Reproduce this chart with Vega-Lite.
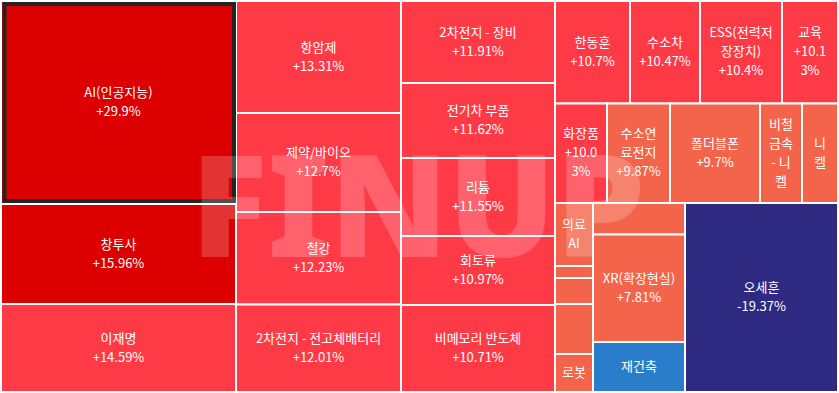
{
  "$schema": "https://vega.github.io/schema/vega-lite/v6.json",
  "width": 839,
  "height": 393,
  "autosize": {"type": "none"},
  "padding": 0,
  "background": "#f6f7fb",
  "config": {"view": {"stroke": null}, "text": {"font": "Noto Sans CJK KR"}},
  "data": {
    "values": [
      {"name": "AI(인공지능)", "label": "AI(인공지능)\n+29.9%", "change": 29.9, "x0": 1, "x1": 236, "y0": 1, "y1": 204},
      {"name": "창투사", "label": "창투사\n+15.96%", "change": 15.96, "x0": 1, "x1": 236, "y0": 204, "y1": 304},
      {"name": "이재명", "label": "이재명\n+14.59%", "change": 14.59, "x0": 1, "x1": 236, "y0": 304, "y1": 392},
      {"name": "항암제", "label": "항암제\n+13.31%", "change": 13.31, "x0": 236, "x1": 401, "y0": 1, "y1": 113},
      {"name": "제약/바이오", "label": "제약/바이오\n+12.7%", "change": 12.7, "x0": 236, "x1": 401, "y0": 113, "y1": 212},
      {"name": "철강", "label": "철강\n+12.23%", "change": 12.23, "x0": 236, "x1": 401, "y0": 212, "y1": 304.5},
      {"name": "2차전지 - 전고체배터리", "label": "2차전지 - 전고체배터리\n+12.01%", "change": 12.01, "x0": 236, "x1": 401, "y0": 304.5, "y1": 392},
      {"name": "2차전지 - 장비", "label": "2차전지 - 장비\n+11.91%", "change": 11.91, "x0": 401, "x1": 555, "y0": 1, "y1": 83},
      {"name": "전기차 부품", "label": "전기차 부품\n+11.62%", "change": 11.62, "x0": 401, "x1": 555, "y0": 83, "y1": 158},
      {"name": "리튬", "label": "리튬\n+11.55%", "change": 11.55, "x0": 401, "x1": 555, "y0": 158, "y1": 236},
      {"name": "회토류", "label": "회토류\n+10.97%", "change": 10.97, "x0": 401, "x1": 555, "y0": 236, "y1": 305},
      {"name": "비메모리 반도체", "label": "비메모리 반도체\n+10.71%", "change": 10.71, "x0": 401, "x1": 555, "y0": 305, "y1": 392},
      {"name": "한동훈", "label": "한동훈\n+10.7%", "change": 10.7, "x0": 555, "x1": 630, "y0": 1, "y1": 103.5},
      {"name": "수소차", "label": "수소차\n+10.47%", "change": 10.47, "x0": 630, "x1": 700, "y0": 1, "y1": 103.5},
      {"name": "ESS(전력저장장치)", "label": "ESS(전력저\n장장치)\n+10.4%", "change": 10.4, "x0": 700, "x1": 782, "y0": 1, "y1": 103.5},
      {"name": "교육", "label": "교육\n+10.1\n3%", "change": 10.13, "x0": 782, "x1": 838, "y0": 1, "y1": 103.5},
      {"name": "화장품", "label": "화장품\n+10.0\n3%", "change": 10.03, "x0": 555, "x1": 607, "y0": 103.5, "y1": 203},
      {"name": "수소연료전지", "label": "수소연\n료전지\n+9.87%", "change": 9.87, "x0": 607, "x1": 670, "y0": 103.5, "y1": 203},
      {"name": "폴더블폰", "label": "폴더블폰\n+9.7%", "change": 9.7, "x0": 670, "x1": 760, "y0": 103.5, "y1": 203},
      {"name": "비철금속 - 니켈", "label": "비철\n금속\n- 니\n켈", "change": 9.6, "x0": 760, "x1": 802, "y0": 103.5, "y1": 203},
      {"name": "니켈", "label": "니\n켈", "change": 9.5, "x0": 802, "x1": 838, "y0": 103.5, "y1": 203},
      {"name": "의료AI", "label": "의료\nAI", "change": 8.9, "x0": 555, "x1": 593, "y0": 203, "y1": 266},
      {"name": "기타1", "label": "", "change": 8.5, "x0": 555, "x1": 593, "y0": 266, "y1": 278},
      {"name": "기타2", "label": "", "change": 8.4, "x0": 555, "x1": 593, "y0": 278, "y1": 304},
      {"name": "기타3", "label": "", "change": 8.2, "x0": 555, "x1": 593, "y0": 304, "y1": 354},
      {"name": "로봇", "label": "로봇", "change": 8.0, "x0": 555, "x1": 593, "y0": 354, "y1": 392},
      {"name": "기타4", "label": "", "change": 8.6, "x0": 593, "x1": 685, "y0": 203, "y1": 234.5},
      {"name": "XR(확장현실)", "label": "XR(확장현실)\n+7.81%", "change": 7.81, "x0": 593, "x1": 685, "y0": 234.5, "y1": 342},
      {"name": "재건축", "label": "재건축", "change": -3.0, "x0": 593, "x1": 685, "y0": 342, "y1": 392},
      {"name": "오세훈", "label": "오세훈\n-19.37%", "change": -19.37, "x0": 685, "x1": 838, "y0": 203, "y1": 392}
    ]
  },
  "layer": [
    {
      "mark": {"type": "rect", "stroke": "#ffffff", "strokeWidth": 2},
      "encoding": {
        "x": {"field": "x0", "type": "quantitative", "scale": {"domain": [0, 839], "nice": false, "zero": false}, "axis": null},
        "x2": {"field": "x1"},
        "y": {"field": "y0", "type": "quantitative", "scale": {"domain": [0, 393], "nice": false, "zero": false, "reverse": true}, "axis": null},
        "y2": {"field": "y1"},
        "color": {
          "field": "change",
          "type": "quantitative",
          "scale": {"type": "threshold", "domain": [-10, 0, 10, 15], "range": ["#2e2a82", "#2a7dcb", "#f4644a", "#ff3a47", "#dc0000"]},
          "legend": null
        }
      }
    },
    {
      "transform": [{"filter": "datum.name === 'AI(인공지능)'"}],
      "mark": {"type": "rect", "filled": false, "stroke": "#242424", "strokeWidth": 4, "xOffset": 3.5, "x2Offset": -2, "yOffset": 3, "y2Offset": -3},
      "encoding": {
        "x": {"field": "x0", "type": "quantitative"},
        "x2": {"field": "x1"},
        "y": {"field": "y0", "type": "quantitative"},
        "y2": {"field": "y1"}
      }
    },
    {
      "data": {"values": [{"mark": "FINUP"}]},
      "mark": {"type": "text", "color": "#ffffff", "opacity": 0.2, "fontSize": 142, "fontWeight": 900, "font": "Noto Sans", "align": "center", "baseline": "middle"},
      "encoding": {
        "x": {"datum": 418, "type": "quantitative"},
        "y": {"datum": 214, "type": "quantitative"},
        "text": {"field": "mark"}
      }
    },
    {
      "transform": [
        {"calculate": "(datum.x0 + datum.x1) / 2", "as": "xc"},
        {"calculate": "(datum.y0 + datum.y1) / 2 - (split(datum.label, '\\n').length - 1) * 9.5", "as": "yc"}
      ],
      "mark": {"type": "text", "color": "#ffffff", "fontSize": 13, "lineHeight": 19, "align": "center", "baseline": "middle", "lineBreak": "\n"},
      "encoding": {
        "x": {"field": "xc", "type": "quantitative"},
        "y": {"field": "yc", "type": "quantitative"},
        "text": {"field": "label"}
      }
    }
  ]
}
